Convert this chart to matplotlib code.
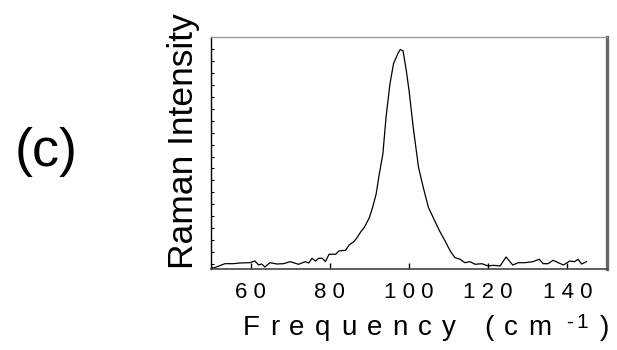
import numpy as np
import matplotlib
matplotlib.use("Agg")
import matplotlib.pyplot as plt
from matplotlib import font_manager
from matplotlib.ft2font import FT2Font

plt.rcParams['font.family'] = ['Liberation Sans', 'DejaVu Sans']

# Raman spectrum (c), intensity in arbitrary units
freq = [50.0, 50.7, 53.5, 55.6, 57.3, 59.8, 61.1, 62.0, 62.8, 63.6,
        64.9, 66.6, 68.3, 70.0, 72.1, 73.8, 74.7, 75.5, 76.4, 77.2,
        78.1, 78.9, 79.8, 81.5, 82.3, 84.0, 84.9, 86.1, 87.0, 87.8,
        88.7, 90.0, 90.8, 91.7, 92.5, 93.4, 94.2, 95.2, 96.1, 97.2,
        97.8, 98.5, 99.3, 100.0, 101.1, 102.4, 103.6, 104.9, 106.1, 107.7,
        109.1, 110.4, 111.6, 112.9, 114.1, 115.4, 116.7, 118.4, 120.0, 121.3,
        123.0, 124.5, 126.2, 127.6, 129.3, 131.3, 132.9, 133.9, 135.1, 136.4,
        137.7, 139.0, 140.6, 141.8, 142.7, 143.6, 144.8]
intensity = [2.0, 1.0, 5.3, 5.3, 6.0, 6.3, 8.0, 4.0, 5.0, 2.0,
             6.3, 5.0, 5.3, 7.3, 4.7, 7.3, 6.0, 10.7, 8.0, 10.7,
             10.7, 7.3, 14.7, 14.7, 18.0, 18.7, 24.0, 27.3, 32.0, 37.0,
             41.3, 51.3, 61.3, 74.7, 94.7, 114.7, 151.3, 184.7, 204.7, 214.7,
             218.7, 217.3, 198.0, 178.0, 140.0, 101.3, 81.3, 61.3, 51.3, 38.0,
             28.0, 18.0, 11.3, 9.7, 6.3, 7.3, 4.7, 5.3, 3.0, 3.7,
             3.0, 12.0, 4.0, 6.3, 6.3, 7.3, 9.7, 5.3, 5.3, 8.7,
             6.3, 4.0, 8.0, 7.3, 9.7, 5.0, 7.3]
xticks = [60, 80, 100, 120, 140]

W, H = 617, 350
fig = plt.figure(figsize=(W / 100, H / 100), dpi=100)
ax = fig.add_axes([0.342, 0.2314, 0.6418, 0.6626])

ax.plot(freq, intensity, '-', color='black', lw=0.9)
ax.set_xlim(50, 150)
ax.set_ylim(0, 231)

ax.set_xticks(xticks)
ax.set_xticklabels([' '.join(str(t)) for t in xticks], fontsize=16)
ax.set_yticks(5.3 + 11.86 * np.arange(19))
ax.set_yticklabels([])
ax.tick_params(axis='x', direction='in', length=4.5, width=1, pad=9)
ax.tick_params(axis='y', direction='in', length=2, width=0.8)

ax.spines['left'].set_color('black')
ax.spines['left'].set_linewidth(1.0)
ax.spines['bottom'].set_color('#444444')
ax.spines['bottom'].set_linewidth(1.2)
ax.spines['top'].set_color('#999999')
ax.spines['top'].set_linewidth(1.0)
ax.spines['right'].set_color('#666666')
ax.spines['right'].set_linewidth(2.4)


def tracked_text(x_px, y_px, s, size, track):
    # letter-spaced text, x/y in pixels from the top-left corner
    ft = FT2Font(font_manager.findfont('Liberation Sans'))
    ft.set_size(size, fig.dpi)
    x = x_px
    for ch in s:
        if ch != ' ':
            fig.text(x / W, 1 - y_px / H, ch, fontsize=size,
                     ha='left', va='baseline')
        x += ft.load_char(ord(ch)).linearHoriAdvance / 65536 + track


tracked_text(242.5, 335, 'Frequency (cm', 20, 10.3)
tracked_text(566, 328, '-1', 15, 3)
tracked_text(600, 335, ')', 20, 0)

fig.text(193 / W, 1 - 141.5 / H, 'Raman Intensity', fontsize=25.5,
         rotation=90, rotation_mode='anchor', ha='center', va='baseline')
fig.text(0.024, 1 - 166 / H, '(c)', fontsize=39, ha='left', va='baseline')

fig.savefig('out.png', dpi=100)
